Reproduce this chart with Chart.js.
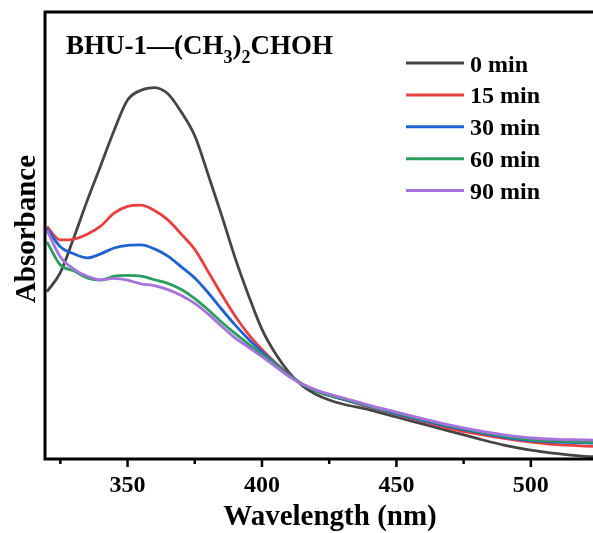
<!DOCTYPE html>
<html>
<head>
<meta charset="utf-8">
<script src="https://cdn.jsdelivr.net/npm/chart.js@4"></script>
<style>
  html, body { margin: 0; padding: 0; background: #fff; overflow: hidden; }
  #wrap { width: 620px; height: 533px; }
</style>
</head>
<body>
<div id="wrap"><canvas id="uvChart" width="620" height="533"></canvas></div>
<script>
// wavelength (nm) and absorbance (a.u.)
const wavelengths = [320, 325, 330, 335, 340, 345, 350, 355, 360, 365, 370, 375, 380, 385, 390, 395,
    400, 405, 410, 415, 420, 425, 430, 440, 450, 460, 470, 480, 490, 500, 510, 520, 525];

const abs0 = [0.374, 0.417, 0.495, 0.578, 0.656, 0.735, 0.803, 0.825, 0.831, 0.817, 0.776, 0.723, 0.636, 0.545, 0.450, 0.366,
    0.290, 0.236, 0.194, 0.164, 0.145, 0.132, 0.123, 0.110, 0.094, 0.078, 0.062, 0.046, 0.031, 0.020, 0.012, 0.006, 0.005];
const abs15 = [0.520, 0.490, 0.492, 0.503, 0.521, 0.550, 0.565, 0.568, 0.556, 0.535, 0.503, 0.469, 0.419, 0.368, 0.320, 0.279,
    0.245, 0.215, 0.189, 0.168, 0.153, 0.142, 0.134, 0.116, 0.100, 0.084, 0.068, 0.056, 0.046, 0.038, 0.032, 0.029, 0.028];
const abs30 = [0.516, 0.475, 0.459, 0.450, 0.459, 0.472, 0.478, 0.479, 0.470, 0.454, 0.430, 0.405, 0.372, 0.335, 0.300, 0.268,
    0.240, 0.213, 0.188, 0.167, 0.153, 0.142, 0.134, 0.117, 0.101, 0.086, 0.072, 0.060, 0.049, 0.041, 0.038, 0.036, 0.035];
const abs60 = [0.486, 0.434, 0.421, 0.405, 0.400, 0.409, 0.411, 0.409, 0.401, 0.393, 0.379, 0.359, 0.334, 0.306, 0.281, 0.257,
    0.234, 0.211, 0.187, 0.167, 0.153, 0.143, 0.135, 0.118, 0.103, 0.088, 0.074, 0.062, 0.051, 0.043, 0.040, 0.038, 0.037];
const abs90 = [0.512, 0.452, 0.425, 0.409, 0.401, 0.404, 0.400, 0.392, 0.388, 0.379, 0.366, 0.348, 0.324, 0.297, 0.271, 0.250,
    0.229, 0.207, 0.185, 0.167, 0.155, 0.145, 0.137, 0.120, 0.105, 0.090, 0.076, 0.064, 0.054, 0.047, 0.044, 0.043, 0.042];

const seriesNames = ['0 min', '15 min', '30 min', '60 min', '90 min'];
const seriesValues = [abs0, abs15, abs30, abs60, abs90];
const seriesColors = ['#454545', '#e8403f', '#1e63d0', '#2a9d5f', '#a672dc'];

const xMajorStep = 50;
const SERIF = '"Liberation Serif", "Times New Roman", serif';

// box, ticks, y title, inner title and legend
const decorations = {
    id: 'decorations',
    beforeDraw(chart) {
        const c = chart.ctx;
        c.save();
        c.fillStyle = '#fff';
        c.fillRect(0, 0, chart.width, chart.height);
        c.restore();
    },
    afterDraw(chart) {
        const c = chart.ctx;
        const area = chart.chartArea;
        const xs = chart.scales.x;
        c.save();

        // frame
        c.strokeStyle = '#000';
        c.lineWidth = 3;
        c.strokeRect(area.left, area.top, area.right - area.left, area.bottom - area.top);

        // ticks, longer on the majors
        c.lineWidth = 2.5;
        xs.ticks.forEach(t => {
            const px = xs.getPixelForValue(t.value);
            const len = t.value % xMajorStep === 0 ? 8 : 5;
            c.beginPath();
            c.moveTo(px, area.bottom);
            c.lineTo(px, area.bottom + len);
            c.stroke();
        });

        // y title
        c.fillStyle = '#000';
        c.font = 'bold 29px ' + SERIF;
        c.textAlign = 'center';
        c.textBaseline = 'alphabetic';
        c.translate(35, 229);
        c.rotate(-Math.PI / 2);
        c.fillText('Absorbance', 0, 0);
        c.setTransform(1, 0, 0, 1, 0, 0);

        // inner title with subscripts
        const parts = [['BHU-1\u2014(CH', 0], ['3', 1], [')', 0], ['2', 1], ['CHOH', 0]];
        let x = 66;
        c.textAlign = 'left';
        parts.forEach(([txt, sub]) => {
            c.font = sub ? 'bold 18px ' + SERIF : 'bold 27px ' + SERIF;
            c.fillText(txt, x, sub ? 63 : 54);
            x += c.measureText(txt).width;
        });

        // legend
        c.font = 'bold 24px ' + SERIF;
        seriesNames.forEach((name, i) => {
            const y = 63 + i * 31.9;
            c.strokeStyle = seriesColors[i];
            c.lineWidth = 3;
            c.beginPath();
            c.moveTo(406, y);
            c.lineTo(464, y);
            c.stroke();
            c.fillStyle = '#000';
            c.fillText(name, 470, y + 8.5);
        });
        c.restore();
    }
};

new Chart(document.getElementById('uvChart'), {
    type: 'line',
    data: {
        datasets: seriesNames.map((name, i) => ({
            label: name,
            data: wavelengths.map((w, j) => ({ x: w, y: seriesValues[i][j] })),
            borderColor: seriesColors[i],
            borderWidth: 2.8,
            pointRadius: 0,
            fill: false,
            cubicInterpolationMode: 'monotone',
            order: seriesNames.length - i
        }))
    },
    options: {
        responsive: false,
        animation: false,
        layout: { padding: { left: 45, top: 12, right: 5, bottom: 0 } },
        plugins: {
            legend: { display: false },
            tooltip: { enabled: false }
        },
        scales: {
            x: {
                type: 'linear',
                min: 319.3,
                max: 531.3,
                border: { display: false },
                grid: { display: false, drawTicks: false },
                ticks: {
                    stepSize: 25,
                    includeBounds: false,
                    autoSkip: false,
                    maxRotation: 0,
                    padding: 12,
                    color: '#000',
                    font: { family: SERIF, size: 24, weight: 'bold' },
                    callback: v => (v % xMajorStep === 0 ? String(v) : '')
                },
                title: {
                    display: true,
                    text: 'Wavelength (nm)',
                    color: '#000',
                    font: { family: SERIF, size: 29, weight: 'bold', lineHeight: 1 },
                    padding: { top: 0, bottom: 1 }
                },
                afterFit: s => { s.height = 74; }
            },
            y: {
                display: false,
                min: 0,
                max: 1
            }
        }
    },
    plugins: [decorations]
});
</script>
</body>
</html>
